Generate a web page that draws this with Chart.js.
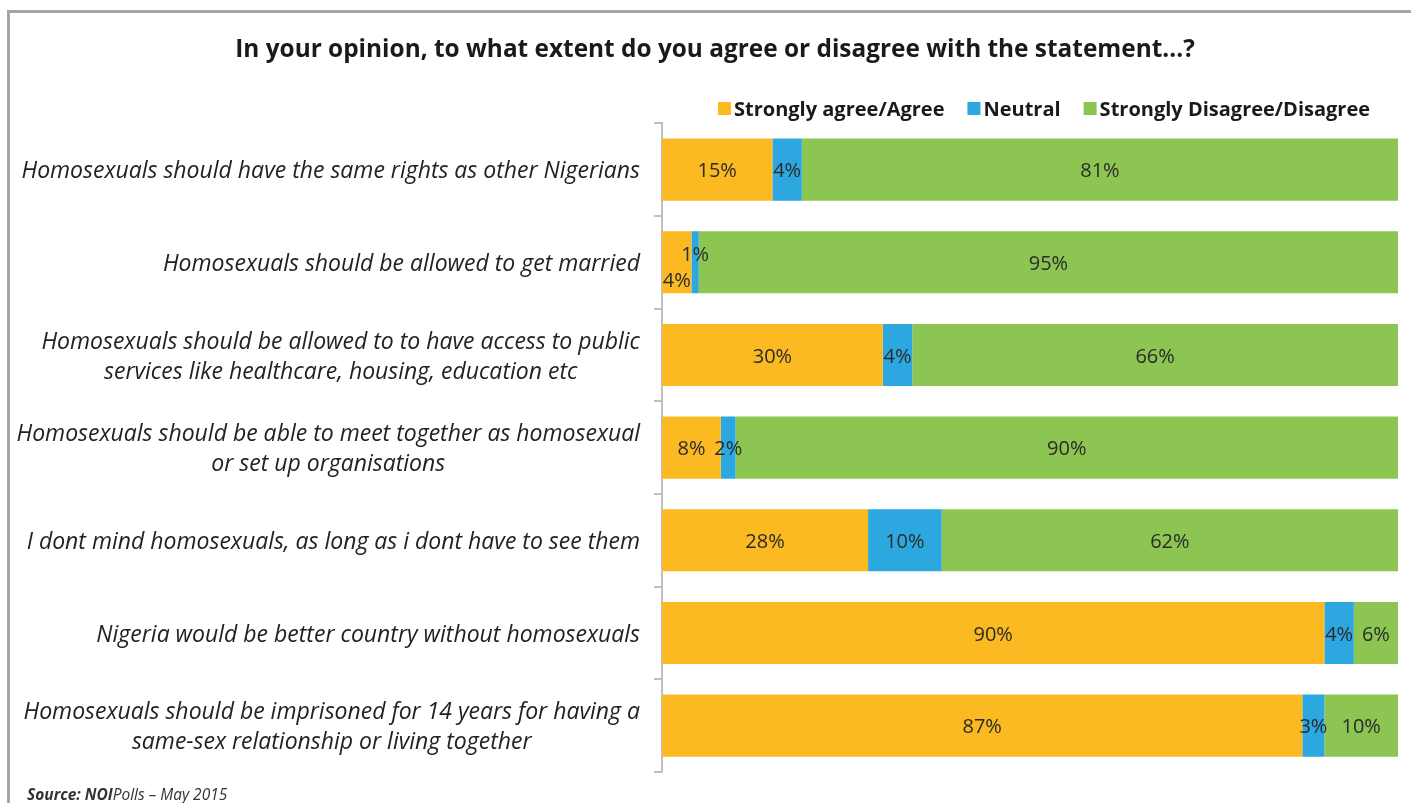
<!DOCTYPE html>
<html>
<head>
<meta charset="utf-8">
<script src="https://cdn.jsdelivr.net/npm/chart.js@4.4.1/dist/chart.umd.min.js"></script>
<style>
  html, body { margin: 0; padding: 0; background: #fff; }
  #wrap { position: relative; width: 1411px; height: 803px; overflow: hidden; }
  #frame { position: absolute; left: 7px; top: 10px; right: -10px; bottom: -10px;
           border-top: 3px solid #a6a6a6; border-left: 3px solid #a6a6a6; }
  #chartCanvas { position: absolute; left: 0; top: 0; }
</style>
</head>
<body>
<div id="wrap">
  <div id="frame"></div>
  <canvas id="chartCanvas" width="1411" height="803"></canvas>
</div>
<script>
let categories = [
    ['Homosexuals should have the same rights as other Nigerians'],
    ['Homosexuals should be allowed to get married'],
    ['Homosexuals should be allowed to to have access to public', 'services like healthcare, housing, education etc'],
    ['Homosexuals should be able to meet together as homosexual', 'or set up organisations'],
    ['I dont mind homosexuals, as long as i dont have to see them'],
    ['Nigeria would be better country without homosexuals'],
    ['Homosexuals should be imprisoned for 14 years for having a', 'same-sex relationship or living together']
];
let agree = [15, 4, 30, 8, 28, 90, 87];
let neutral = [4, 1, 4, 2, 10, 4, 3];
let disagree = [81, 95, 66, 90, 62, 6, 10];

let seriesNames = ['Strongly agree/Agree', 'Neutral', 'Strongly Disagree/Disagree'];
let seriesColors = ['#fbb922', '#2da7e0', '#8dc553'];

let titleText = 'In your opinion, to what extent do you agree or disagree with the statement...?';
let fontFamily = '"Open Sans", "Liberation Sans", sans-serif';

// labels on the left: block right-aligned, lines centred inside the block
let categoryLabels = {
    id: 'categoryLabels',
    afterDraw(chart) {
        let c = chart.ctx;
        let y = chart.scales.y;
        let rightX = y.right - 22;
        c.save();
        c.font = 'italic 23px ' + fontFamily;
        c.fillStyle = '#222';
        c.textBaseline = 'middle';
        c.textAlign = 'center';
        categories.forEach((lines, i) => {
            let cy = y.getPixelForValue(i) + 2;
            let w = Math.max(...lines.map(l => c.measureText(l).width));
            let cx = rightX - w / 2;
            let lh = 30;
            lines.forEach((l, j) => {
                c.fillText(l, cx, cy + (j - (lines.length - 1) / 2) * lh);
            });
        });
        c.restore();
    }
};

// legend row above the bars, small square swatches
let legendRow = {
    id: 'legendRow',
    afterDraw(chart) {
        let c = chart.ctx;
        c.save();
        c.font = 'bold 20px ' + fontFamily;
        c.textBaseline = 'middle';
        let x = 718, y = 110;
        seriesNames.forEach((name, k) => {
            c.fillStyle = seriesColors[k];
            c.fillRect(x, y - 8, 13, 13);
            c.fillStyle = '#1a1a1a';
            c.fillText(name, x + 16, y);
            x += 16 + c.measureText(name).width + 23;
        });
        c.restore();
    }
};

let valueLabels = {
    id: 'valueLabels',
    afterDatasetsDraw(chart) {
        let c = chart.ctx;
        let neutralBars = chart.getDatasetMeta(1).data;
        c.save();
        c.font = '20px ' + fontFamily;
        c.fillStyle = '#2b2b2b';
        c.textAlign = 'center';
        c.textBaseline = 'middle';
        chart.data.datasets.forEach((ds, di) => {
            chart.getDatasetMeta(di).data.forEach((bar, i) => {
                let x = (bar.x + bar.base) / 2;
                let y = bar.y + 2;
                // very thin neutral segment: push the two left labels apart
                let nb = neutralBars[i];
                if (Math.abs(nb.x - nb.base) < 10) {
                    if (di === 0) y += 17;
                    if (di === 1) y -= 9;
                }
                c.fillText(ds.data[i] + '%', x, y);
            });
        });
        c.restore();
    }
};

let sourceNote = {
    id: 'sourceNote',
    afterDraw(chart) {
        let c = chart.ctx;
        c.save();
        c.fillStyle = '#333';
        c.textBaseline = 'alphabetic';
        let x = 27, y = 800;
        c.font = 'italic bold 15.5px ' + fontFamily;
        c.fillText('Source: NOI', x, y);
        x += c.measureText('Source: NOI').width;
        c.font = 'italic 15.5px ' + fontFamily;
        c.fillText('Polls \u2013 May 2015', x, y);
        c.restore();
    }
};

let ctx = document.getElementById('chartCanvas').getContext('2d');
let chart = new Chart(ctx, {
    type: 'bar',
    data: {
        labels: categories,
        datasets: seriesNames.map((name, k) => ({
            label: name,
            data: [agree, neutral, disagree][k],
            backgroundColor: seriesColors[k],
            borderWidth: 0,
            barPercentage: 0.67,
            categoryPercentage: 1
        }))
    },
    options: {
        responsive: false,
        animation: false,
        indexAxis: 'y',
        layout: { padding: { left: 32, right: 13, bottom: 31, top: 0 } },
        scales: {
            x: { stacked: true, min: 0, max: 100, display: false },
            y: {
                stacked: true,
                ticks: { display: false },
                grid: { drawOnChartArea: false, drawTicks: true, tickLength: 8, offset: true, color: '#bfbfbf', lineWidth: 2 },
                border: { color: '#bfbfbf', width: 2 },
                afterFit(scale) { scale.width = 630; }
            }
        },
        plugins: {
            title: {
                display: true,
                text: titleText,
                color: '#1a1a1a',
                font: { family: fontFamily, size: 24.4, weight: 'bold' },
                padding: { top: 35, bottom: 59 }
            },
            legend: { display: false },
            tooltip: { enabled: false }
        }
    },
    plugins: [categoryLabels, legendRow, valueLabels, sourceNote]
});
</script>
</body>
</html>
